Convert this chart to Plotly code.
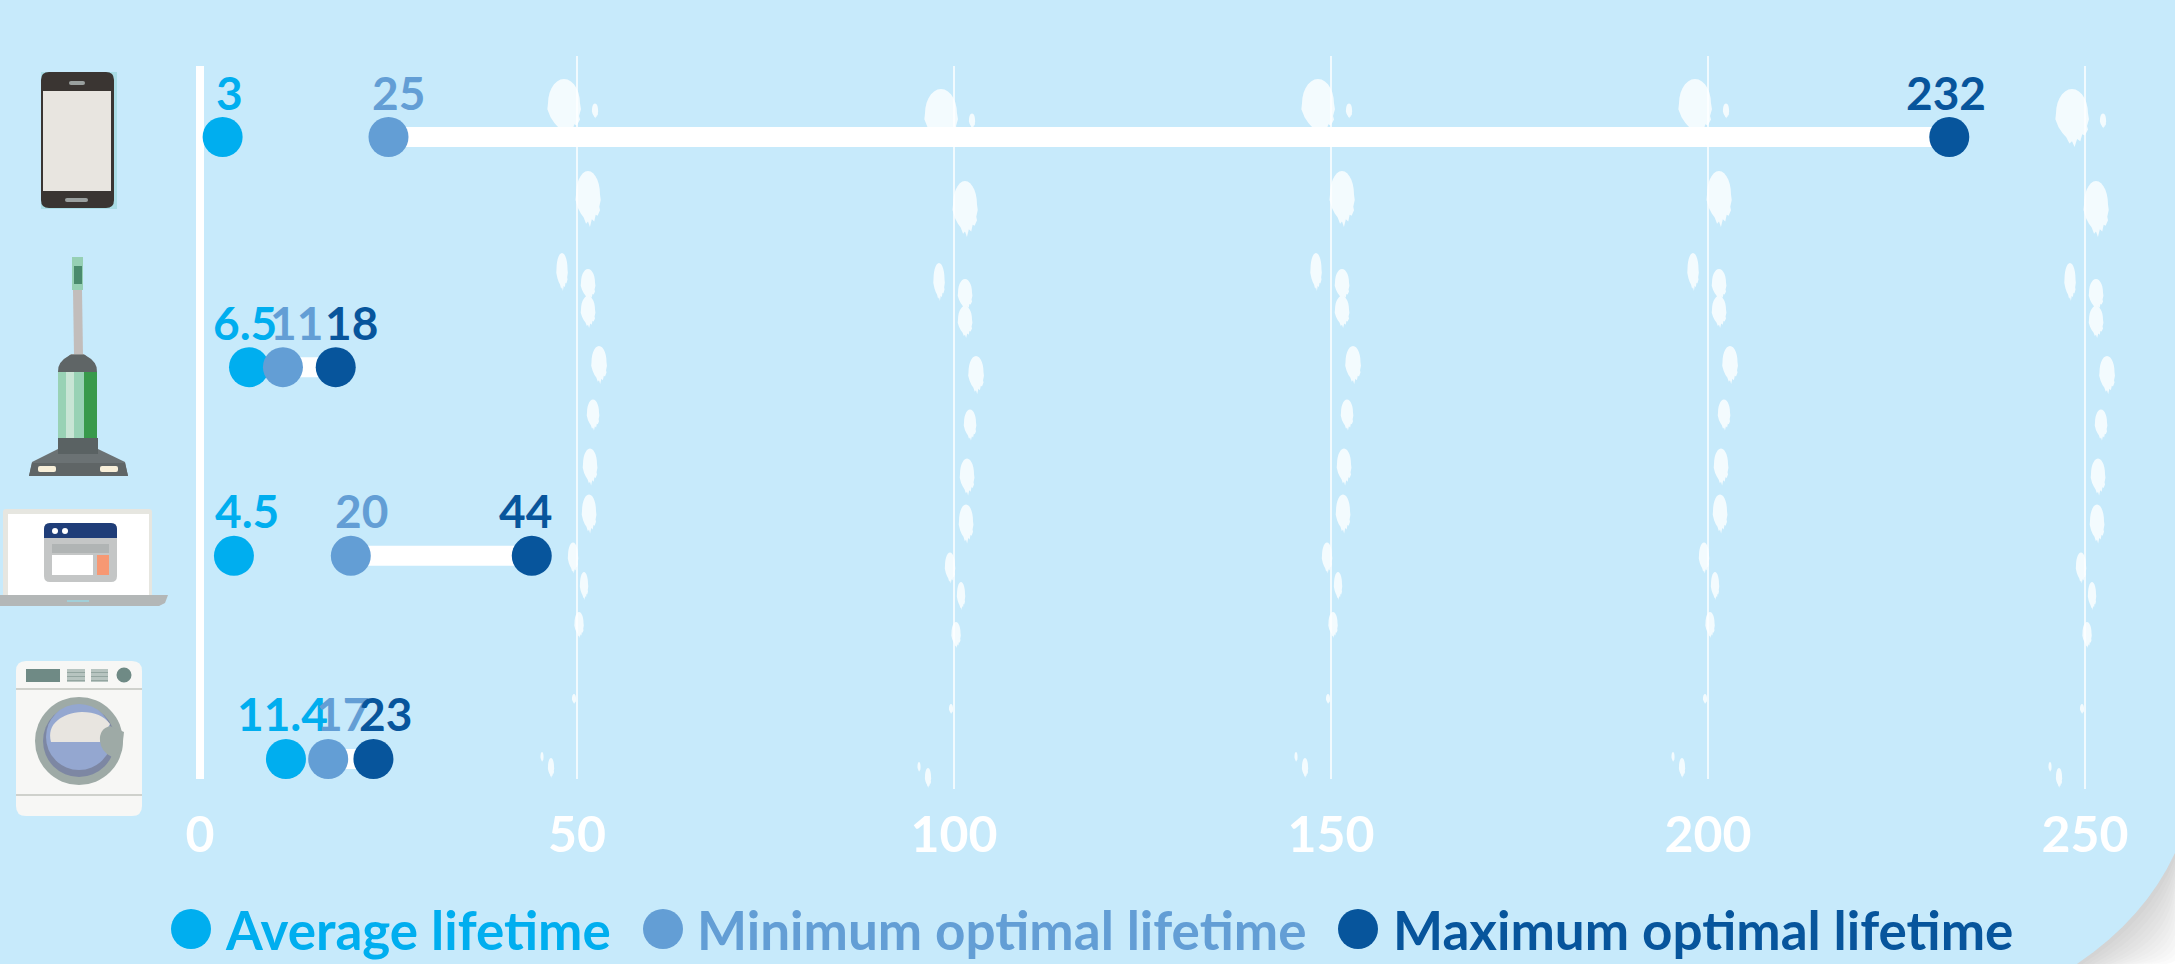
import math
import plotly.graph_objects as go

# ---- data -------------------------------------------------------------
products = ["Smartphone", "Vacuum cleaner", "Laptop", "Washing machine"]
average_lifetime = [3, 6.5, 4.5, 11.4]
minimum_optimal = [25, 11, 20, 17]
maximum_optimal = [232, 18, 44, 23]
series_names = ["Average lifetime", "Minimum optimal lifetime", "Maximum optimal lifetime"]
x_ticks = [0, 50, 100, 150, 200, 250]

# ---- layout constants -------------------------------------------------
W, H = 2175, 964
PLOT_H = 797
ORIGIN_PX, PX_PER_UNIT = 200, 7.54
ROW_TOP_PX, PX_PER_ROW = 137, 207.33
row_positions = [0, 1.11, 2.02, 3]
# sideways nudges that keep neighbouring value labels readable
label_nudges = [[7, -4, 13, -3], [10, 14, 11, 14], [-3, 16, -6, 12]]
LABEL_RISE = 45

BG = "#c7eafb"
AVG, MIN, MAX = "#00aeef", "#639ed5", "#07559c"
SPLASH = "#f3fbfe"
FONT = "Lato"


def px(x):
    return x / W


def py(y):
    return 1 - y / PLOT_H


def val_px(v):
    return ORIGIN_PX + v * PX_PER_UNIT


shapes = []


def add_path(d, fill):
    shapes.append(dict(type="path", xref="paper", yref="paper", path=d,
                       fillcolor=fill, line=dict(width=0), layer="below"))


def pt(x, y):
    return f"{px(x):.6f},{py(y):.6f}"


def poly(points, fill):
    add_path("M " + " L ".join(pt(x, y) for x, y in points) + " Z", fill)


def rect(x0, y0, x1, y1, fill):
    poly([(x0, y0), (x1, y0), (x1, y1), (x0, y1)], fill)


def rrect(x0, y0, x1, y1, r, fill, bottom=True):
    rb = r if bottom else 0
    d = (f"M {pt(x0 + r, y0)} L {pt(x1 - r, y0)} Q {pt(x1, y0)} {pt(x1, y0 + r)} "
         f"L {pt(x1, y1 - rb)} Q {pt(x1, y1)} {pt(x1 - rb, y1)} "
         f"L {pt(x0 + rb, y1)} Q {pt(x0, y1)} {pt(x0, y1 - rb)} "
         f"L {pt(x0, y0 + r)} Q {pt(x0, y0)} {pt(x0 + r, y0)} Z")
    add_path(d, fill)


def disc(cx, cy, rx, fill, ry=None):
    ry = rx if ry is None else ry
    shapes.append(dict(type="circle", xref="paper", yref="paper",
                       x0=px(cx - rx), x1=px(cx + rx), y0=py(cy + ry), y1=py(cy - ry),
                       fillcolor=fill, line=dict(width=0), layer="below"))


# ---- page with its peeled corner ---------------------------------------
def page_outline(d):
    return (f"M {pt(0, 0)} L {pt(W + 60, 0)} L {pt(W + 60, 853 + d - 30)} L {pt(W, 853 + d)} "
            f"Q {pt(2145 + d * 0.72, 918 + d * 0.72)} {pt(2077 + d, 964)} "
            f"L {pt(0, 964)} Z")


for step in range(14, -1, -1):
    shade = 208 + int(47 * (step / 14) ** 0.9)
    add_path(page_outline(step * 5.5), f"rgb({shade},{shade},{shade})")
add_path(page_outline(0), BG)

# ---- paint splashes repeated along each gridline -----------------------
# (offset from the gridline, centre y, width, height)
splashes = [
    (-13, 108, 32, 58), (18, 111, 6, 15), (11, 199, 24, 56), (-15, 272, 11, 38),
    (11, 285, 14, 32), (11, 312, 14, 32), (22, 365, 15, 38), (16, 415, 12, 31),
    (13, 467, 14, 37), (12, 514, 14, 39), (-4, 558, 10, 31), (7, 586, 8, 28),
    (2, 625, 9, 26), (-3, 699, 4, 10), (-35, 757, 3, 10), (-26, 768, 6, 20),
]


def splash(cx, cy, w, h):
    pts = []
    n = 14
    for i in range(n + 1):
        a = math.pi * (1 - i / n)
        pts.append((cx + w / 2 * math.cos(a), cy - h * 0.08 - h * 0.42 * math.sin(a)))
    # tapered underside, ending in a few small drips
    lower = [(0.53, 0.02), (0.47, 0.14), (0.50, 0.20), (0.40, 0.30), (0.32, 0.28),
             (0.26, 0.40), (0.16, 0.36), (0.08, 0.50), (0.0, 0.40),
             (-0.08, 0.44), (-0.18, 0.33), (-0.30, 0.26), (-0.42, 0.16), (-0.52, 0.02)]
    pts += [(cx + fx * w, cy + fy * h) for fx, fy in lower]
    poly(pts, SPLASH)


grid_drop = {50: 0, 100: 10, 150: 0, 200: 0, 250: 10}
for tick, drop in grid_drop.items():
    for dx, cy, w, h in splashes:
        splash(val_px(tick) + dx, cy + drop, w, h)
    shapes.append(dict(type="line", xref="x", yref="paper", x0=tick, x1=tick,
                       y0=py(56 + drop), y1=py(779 + drop),
                       line=dict(color="#ffffff", width=1.5), layer="below"))

# vertical baseline at zero
shapes.append(dict(type="line", xref="x", yref="paper", x0=0, x1=0,
                   y0=py(66), y1=py(779), line=dict(color="#ffffff", width=8), layer="below"))

# ---- smartphone --------------------------------------------------------
rect(41, 72, 117, 209, "#a9dde6")
rrect(41, 72, 114, 208, 8, "#3a3532")
rect(43, 91, 111, 191, "#e8e5e0")
rrect(69, 81, 85, 85, 2, "#9aa09f")
rrect(65, 198, 88, 202, 2, "#9aa09f")

# ---- vacuum cleaner ----------------------------------------------------
rect(72, 257, 83, 290, "#96d0b4")
rect(74, 266, 82, 284, "#4a8b6d")
poly([(73, 290), (82, 290), (83, 355), (74, 355)], "#c2bdbb")
poly([(71, 354), (84, 354), (88, 358), (67, 358)], "#8d908f")
add_path(f"M {pt(58, 372)} Q {pt(57, 362)} {pt(70, 355)} L {pt(85, 355)} "
         f"Q {pt(98, 362)} {pt(97, 372)} Z", "#5f6566")
rect(58, 372, 97, 438, "#99d2b5")
rect(66, 372, 74, 438, "#c9e5d5")
rect(84, 372, 97, 438, "#389a4b")
poly([(58, 449), (98, 449), (125, 462), (128, 476), (29, 476), (32, 462)], "#6b7274")
poly([(32, 463), (125, 463), (128, 476), (29, 476)], "#5f6566")
rect(58, 438, 98, 454, "#5a6263")
rrect(38, 466, 56, 472, 2, "#f8efd9")
rrect(100, 466, 118, 472, 2, "#f8efd9")

# ---- laptop ------------------------------------------------------------
rrect(3, 509, 152, 596, 3, "#e6e6e0", bottom=False)
rect(8, 514, 149, 596, "#ffffff")
rrect(44, 523, 117, 582, 6, "#c4c6c6")
rrect(44, 523, 117, 538, 6, "#1f3d78", bottom=False)
disc(55, 531, 3, "#ffffff")
disc(65, 531, 3, "#ffffff")
rect(52, 544, 109, 553, "#b0b4b4")
rect(52, 555, 93, 575, "#ffffff")
rect(97, 555, 109, 575, "#f79873")
poly([(0, 595), (168, 595), (165, 603), (159, 606), (0, 606)], "#b3b7b7")
rect(67, 600, 89, 602, "#a2cfd8")

# ---- washing machine ---------------------------------------------------
rrect(16, 661, 142, 816, 10, "#f7f7f5")
rect(16, 688, 142, 690, "#cfd1cc")
rect(16, 794, 142, 796, "#cfd1cc")
rect(26, 669, 60, 682, "#6f8a85")
for left, right in ((67, 85), (91, 108)):
    rect(left, 669, right, 682, "#b7c4c0")
    for y in (672, 676, 680):
        rect(left, y, right, y + 1, "#93a5a0")
disc(124, 675, 7.5, "#6f8a85")
disc(79, 741, 44, "#9eaaa6")
disc(79, 741, 36, "#7d87a3")
disc(79, 737, 33, "#94a7d0")
add_path(f"M {pt(51, 742)} C {pt(46, 724)} {pt(62, 713)} {pt(82, 712)} "
         f"C {pt(95, 712)} {pt(104, 716)} {pt(110, 724)} L {pt(100, 742)} Z", "#e8e5e0")
add_path(f"M {pt(110, 726)} Q {pt(99, 729)} {pt(100, 741)} Q {pt(101, 752)} {pt(112, 757)} "
         f"L {pt(122, 750)} L {pt(124, 732)} Z", "#9eaaa6")

# ---- traces ------------------------------------------------------------
connector_x, connector_y = [], []
for lo, hi, row in zip(minimum_optimal, maximum_optimal, row_positions):
    connector_x += [lo, hi, None]
    connector_y += [row, row, None]

traces = [go.Scatter(x=connector_x, y=connector_y, mode="lines", hoverinfo="skip",
                     line=dict(color="#ffffff", width=20), showlegend=False)]
annotations = []
for name, values, colour, nudges in zip(series_names,
                                        [average_lifetime, minimum_optimal, maximum_optimal],
                                        [AVG, MIN, MAX], label_nudges):
    traces.append(go.Scatter(
        x=values, y=row_positions, name=name, mode="markers",
        marker=dict(size=40, color=colour, line=dict(width=0)),
        customdata=products, hovertemplate="%{customdata}: %{x}<extra>" + name + "</extra>",
        cliponaxis=False, showlegend=False))
    for value, row, nudge in zip(values, row_positions, nudges):
        annotations.append(dict(text=str(value), x=value, y=row, xref="x", yref="y",
                                xanchor="center", yanchor="middle", showarrow=False,
                                xshift=nudge, yshift=LABEL_RISE,
                                font=dict(family=FONT, size=46, color=colour, weight="bold")))

# ---- key along the bottom ----------------------------------------------
for name, colour, dot_x, text_x in zip(series_names, [AVG, MIN, MAX],
                                       [191, 663, 1358], [223, 695, 1391]):
    disc(dot_x, 929, 20, colour)
    annotations.append(dict(text=name, xref="paper", yref="paper", x=px(text_x), y=py(929),
                            xanchor="left", yanchor="middle", showarrow=False,
                            font=dict(family=FONT, size=53, color=colour, weight="bold")))

fig = go.Figure(traces)
fig.update_layout(
    width=W, height=H, margin=dict(l=0, r=0, t=0, b=H - PLOT_H, pad=0),
    paper_bgcolor="#ffffff", plot_bgcolor="rgba(0,0,0,0)",
    shapes=shapes, annotations=annotations, showlegend=False,
    xaxis=dict(range=[-ORIGIN_PX / PX_PER_UNIT, (W - ORIGIN_PX) / PX_PER_UNIT],
               tickvals=x_ticks, ticktext=[str(t) for t in x_ticks],
               showgrid=False, zeroline=False, showline=False, ticks="",
               ticklabelstandoff=4,
               tickfont=dict(family=FONT, size=50, color="#ffffff", weight="bold")),
    yaxis=dict(range=[(PLOT_H - ROW_TOP_PX) / PX_PER_ROW, -ROW_TOP_PX / PX_PER_ROW],
               showgrid=False, zeroline=False, showline=False, showticklabels=False),
)
fig.write_html("out.html")
